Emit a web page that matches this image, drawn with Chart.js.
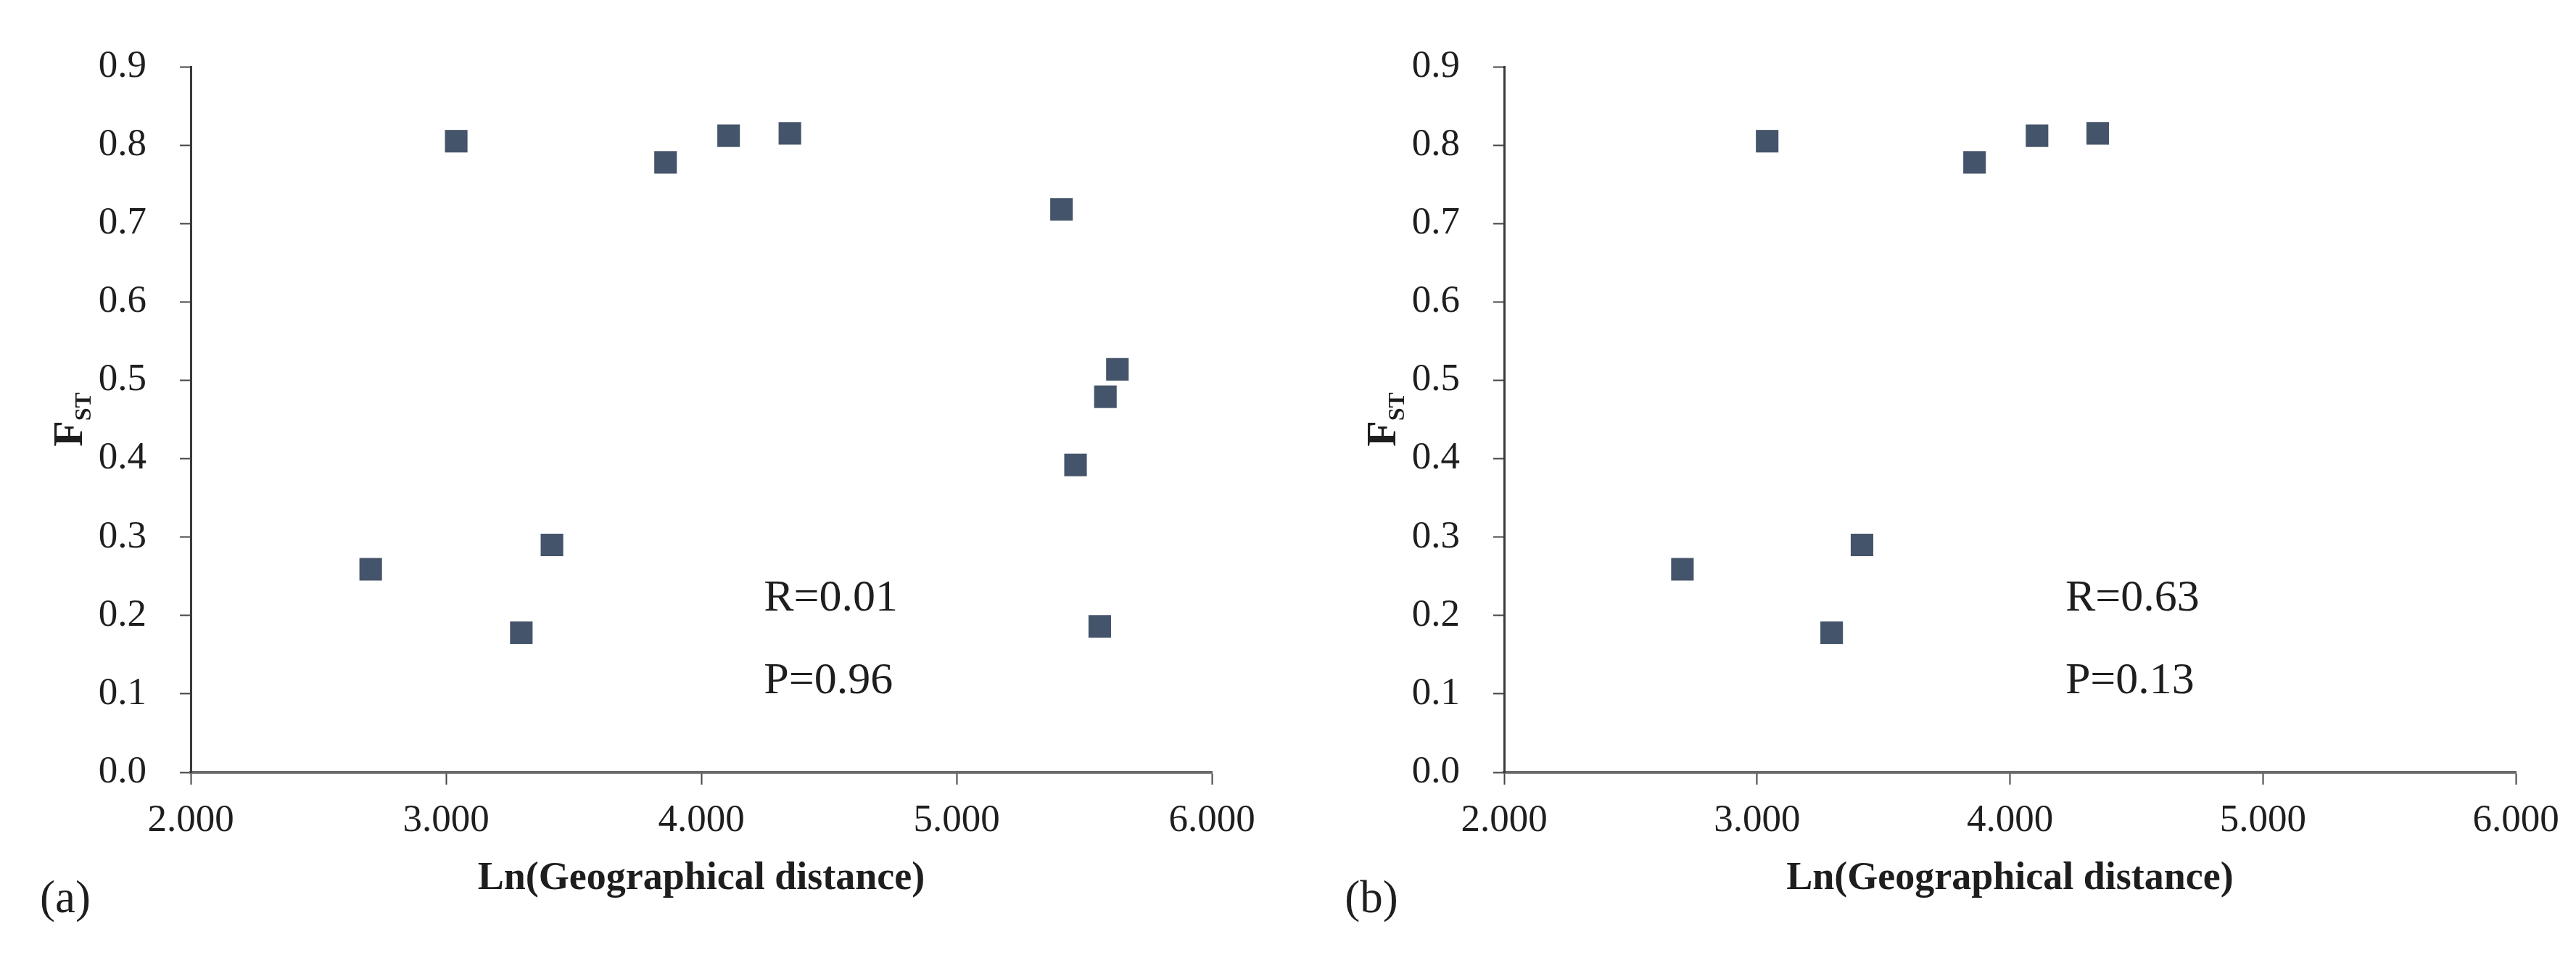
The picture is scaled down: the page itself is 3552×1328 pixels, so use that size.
<!DOCTYPE html>
<html>
<head>
<meta charset="utf-8">
<script src="https://cdn.jsdelivr.net/npm/chart.js@4.4.1/dist/chart.umd.min.js"></script>
<style>
  html, body { margin: 0; padding: 0; background: #ffffff; }
  .panel { position: absolute; top: 0; width: 1776px; height: 1328px; }
  #pa { left: 0; }
  #pb { left: 1776px; }
</style>
</head>
<body>
<div class="panel" id="pa"><canvas id="ca" width="1776" height="1328"></canvas></div>
<div class="panel" id="pb"><canvas id="cb" width="1776" height="1328"></canvas></div>
<script>
// ---- Data ----
const xTickValues = [2, 3, 4, 5, 6];
const xTickLabels = ['2.000', '3.000', '4.000', '5.000', '6.000'];
const yTickValues = [0, 0.1, 0.2, 0.3, 0.4, 0.5, 0.6, 0.7, 0.8, 0.9];
const yTickLabels = ['0.0', '0.1', '0.2', '0.3', '0.4', '0.5', '0.6', '0.7', '0.8', '0.9'];

// Panel (a): all population pairs
const lnDistA = [2.705, 3.04, 3.295, 3.415, 3.86, 4.107, 4.347, 5.411, 5.630, 5.583, 5.466, 5.561];
const fstA    = [0.259, 0.805, 0.178, 0.290, 0.778, 0.812, 0.815, 0.718, 0.514, 0.479, 0.392, 0.186];
// Panel (b): subset
const lnDistB = [2.705, 3.04, 3.295, 3.415, 3.86, 4.107, 4.347];
const fstB    = [0.259, 0.805, 0.178, 0.290, 0.778, 0.812, 0.815];

const statsA = ['R=0.01', 'P=0.96'];
const statsB = ['R=0.63', 'P=0.13'];
const panelLabels = ['(a)', '(b)'];
const xTitle = 'Ln(Geographical distance)';

// ---- Styling ----
const MARKER = '#44546A';
const TEXT = '#1e1e1e';
const SERIF = "'Liberation Serif', 'Times New Roman', serif";
Chart.defaults.font.family = SERIF;
Chart.defaults.color = TEXT;

const decoPlugin = {
  id: 'deco',
  afterDraw(chart, args, opts) {
    const ctx = chart.ctx;
    const ca = chart.chartArea;
    const xs = chart.scales.x, ys = chart.scales.y;
    ctx.save();
    // Y axis title F with subscript ST
    ctx.translate(opts.fstX, (ca.top + ca.bottom) / 2);
    ctx.rotate(-Math.PI / 2);
    ctx.fillStyle = TEXT;
    ctx.textBaseline = 'alphabetic';
    ctx.textAlign = 'left';
    const fFont = "bold 58px " + SERIF;
    const sFont = "bold 32px " + SERIF;
    ctx.font = fFont;
    const wF = ctx.measureText('F').width;
    ctx.font = sFont;
    const wS = ctx.measureText('ST').width;
    const x0 = -(wF + wS) / 2;
    ctx.font = fFont;
    ctx.fillText('F', x0, 18);
    ctx.font = sFont;
    ctx.fillText('ST', x0 + wF, 30);
    ctx.restore();

    // statistics annotation
    ctx.save();
    ctx.fillStyle = TEXT;
    ctx.font = "62px " + SERIF;
    ctx.textAlign = 'left';
    ctx.textBaseline = 'alphabetic';
    const ax = xs.getPixelForValue(opts.annX);
    ctx.fillText(opts.stats[0], ax, ys.getPixelForValue(0.206));
    ctx.fillText(opts.stats[1], ax, ys.getPixelForValue(0.101));
    // panel label
    ctx.font = "63px " + SERIF;
    ctx.textAlign = 'center';
    ctx.textBaseline = 'middle';
    ctx.fillText(opts.panel, opts.panelX, opts.panelY);
    ctx.restore();
  }
};

function makeChart(canvasId, xs, ys, cfg) {
  const pts = xs.map((x, i) => ({ x: x, y: ys[i] }));
  return new Chart(document.getElementById(canvasId), {
    type: 'scatter',
    data: {
      datasets: [{
        data: pts,
        pointStyle: 'rect',
        pointRadius: 22,
        pointHoverRadius: 22,
        backgroundColor: MARKER,
        borderColor: MARKER,
        borderWidth: 0
      }]
    },
    options: {
      responsive: false,
      animation: false,
      events: [],
      layout: { padding: { top: 92, right: cfg.padRight, bottom: 0, left: 0 } },
      plugins: {
        legend: { display: false },
        tooltip: { enabled: false },
        deco: {
          fstX: cfg.fstX,
          annX: cfg.annX,
          stats: cfg.stats,
          panel: cfg.panel,
          panelX: cfg.panelX,
          panelY: 1241
        }
      },
      scales: {
        x: {
          type: 'linear',
          min: 2, max: 6,
          afterBuildTicks: (s) => { s.ticks = xTickValues.map(v => ({ value: v })); },
          afterFit: (s) => { s.height = 263; },
          border: { display: true, color: '#6a6a6a', width: 4 },
          grid: { display: true, drawOnChartArea: false, drawTicks: true, tickLength: 17, tickColor: '#444', tickWidth: 2 },
          ticks: {
            font: { size: 53 },
            color: TEXT,
            padding: 18,
            maxRotation: 0,
            callback: (v, i) => xTickLabels[i]
          },
          title: {
            display: true,
            text: xTitle,
            font: { size: 54, weight: 'bold' },
            color: TEXT,
            padding: { top: 0, bottom: 84 }
          }
        },
        y: {
          type: 'linear',
          min: 0, max: 0.9,
          afterBuildTicks: (s) => { s.ticks = yTickValues.map(v => ({ value: v })); },
          afterFit: (s) => { s.width = cfg.yWidth; },
          border: { display: true, color: '#3a3a3a', width: 3 },
          grid: { display: true, drawOnChartArea: false, drawTicks: true, tickLength: 15, tickColor: '#444', tickWidth: 2 },
          ticks: {
            font: { size: 53 },
            color: TEXT,
            padding: 46,
            callback: (v, i) => yTickLabels[i]
          }
        }
      }
    },
    plugins: [decoPlugin]
  });
}

makeChart('ca', lnDistA, fstA, {
  yWidth: 263, padRight: 105, fstX: 95, annX: 4.245,
  stats: statsA, panel: panelLabels[0], panelX: 90
});
makeChart('cb', lnDistB, fstB, {
  yWidth: 298, padRight: 83, fstX: 130, annX: 4.219,
  stats: statsB, panel: panelLabels[1], panelX: 115
});
</script>
</body>
</html>
